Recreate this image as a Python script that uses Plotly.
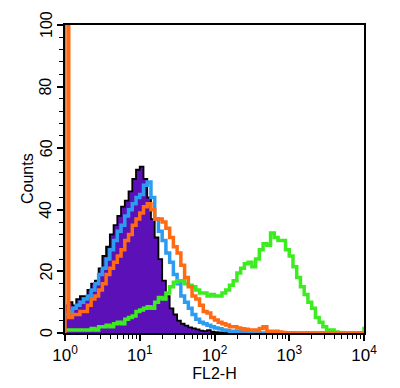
import plotly.graph_objects as go

# Histogram channels: left edge of each bin, in decades of FL2-H (0 .. 4)
bin_decades = [i / 20 for i in range(81)]

# Counts per bin
isotype_purple = [9, 10, 9, 11, 12, 12, 14, 16, 17, 21,
                  25, 28, 32, 35, 38, 41, 43, 46, 50, 53,
                  54, 50, 44, 37, 31, 24, 17, 12, 8, 6,
                  4, 3, 2.4, 1.8, 1.5, 1.2, 0.8, 0.6, 0.9, 0.4,
                  0.3, 0.2, 0.1, 0, 0, 0, 0, 0, 0, 0,
                  0, 0, 0, 0, 0, 0, 0, 0, 0, 0,
                  0, 0, 0, 0, 0, 0, 0, 0, 0, 0,
                  0, 0, 0, 0, 0, 0, 0, 0, 0, 0, 0]

blue_series = [6, 7, 8, 9, 10, 11, 12, 14, 16, 19,
               21, 24, 27, 30, 33, 35, 38, 40, 42, 44,
               45, 48, 49, 44, 37, 33, 30, 26, 23, 19,
               16, 12, 10, 8, 6, 4.5, 3.5, 3, 2.5, 2,
               1.6, 1.4, 1, 0.8, 0.5, 0.6, 0.3, 0.4, 0.2, 0.5,
               0.1, 0, 0, 0, 0, 0, 0, 0, 0, 0,
               0, 0, 0, 0, 0, 0, 0, 0, 0, 0,
               0, 0, 0, 0, 0, 0, 0, 0, 0, 0, 0]

orange_series = [150, 5, 6, 6, 7, 7, 9, 11, 12, 14,
                 16, 19, 21, 23, 25, 27, 30, 32, 35, 37,
                 39, 41, 42, 40, 37, 37, 36, 34, 31, 28,
                 26, 22, 18, 15, 12, 11, 9, 7, 6.5, 5,
                 4.2, 3.5, 3, 2.6, 2, 2, 1.6, 1.4, 1.2, 1,
                 1, 0.8, 1.5, 2, 0.6, 0.5, 0.6, 0.3, 0.2, 0.1,
                 0.1, 0, 0, 0, 0, 0, 0, 0, 0, 0,
                 0, 0, 0, 0, 0, 0, 0, 0, 0, 0, 0]

green_series = [1, 1, 1, 1, 1, 1, 1, 1.5, 1, 2,
                2, 2.5, 2, 3, 3.5, 3, 4.5, 5, 5.5, 7,
                7.5, 8, 8.5, 8, 10, 11.5, 11, 13, 15, 16.5,
                17, 17, 16, 15.5, 15, 14, 13, 13, 12, 12.5,
                12, 12, 13, 14, 15.5, 17, 19.5, 21, 22.5, 23,
                21.5, 24, 27, 29, 28.5, 32.5, 31, 30, 30, 27,
                25, 21.5, 18, 15, 12.5, 10, 8, 5, 3.5, 2,
                1, 1, 0.3, 0, 0, 0, 0, 0, 0, 0, 2]

x_tick_vals = [1, 10, 100, 1000, 10000]
x_tick_text = ["10<sup>0</sup>", "10<sup>1</sup>", "10<sup>2</sup>",
               "10<sup>3</sup>", "10<sup>4</sup>"]
y_tick_vals = [0, 20, 40, 60, 80, 100]
y_tick_text = ["0", "20", "40", "60", "80", "100"]

x = [10 ** d for d in bin_decades]
x_minor = [m * 10 ** e for e in range(4) for m in range(2, 10)]

FONT = "Liberation Sans, Arial, Helvetica, sans-serif"

fig = go.Figure()
fig.add_trace(go.Scatter(
    x=x, y=isotype_purple, mode="lines", line_shape="hv",
    line=dict(color="black", width=1.8),
    fill="tozeroy", fillcolor="#5b10b8", showlegend=False))
fig.add_trace(go.Scatter(
    x=x, y=blue_series, mode="lines", line_shape="hv",
    line=dict(color="#2d9cf0", width=3.5), showlegend=False))
fig.add_trace(go.Scatter(
    x=x, y=green_series, mode="lines", line_shape="hv",
    line=dict(color="#3cec1e", width=3.5), showlegend=False))
fig.add_trace(go.Scatter(
    x=[1] + x, y=[0] + orange_series, mode="lines", line_shape="hv",
    line=dict(color="#ff6a14", width=3.5), showlegend=False))

fig.update_layout(
    width=392, height=380,
    margin=dict(l=57, r=36, t=17, b=55),
    paper_bgcolor="white", plot_bgcolor="white",
    font=dict(family=FONT, size=16, color="black"),
)
fig.update_xaxes(
    type="log", range=[0, 4],
    tickmode="array", tickvals=x_tick_vals, ticktext=x_tick_text,
    ticks="outside", ticklen=6, tickwidth=1.5, tickcolor="black",
    minor=dict(tickmode="array", tickvals=x_minor, ticks="outside",
               ticklen=4, tickwidth=1, tickcolor="black"),
    showline=True, linecolor="black", linewidth=1.5, mirror=True,
    showgrid=False, zeroline=False,
    tickfont=dict(family=FONT, size=17, color="black"),
    title=dict(text="FL2-H", font=dict(family=FONT, size=16, color="black"),
               standoff=0),
)
fig.update_yaxes(
    range=[0, 100],
    tickmode="array", tickvals=y_tick_vals, showticklabels=False,
    ticks="outside", ticklen=6, tickwidth=1.5, tickcolor="black",
    minor=dict(dtick=4, tick0=0, ticks="outside", ticklen=4,
               tickwidth=1, tickcolor="black"),
    showline=True, linecolor="black", linewidth=1.5, mirror=True,
    showgrid=False, zeroline=False,
)

# Vertical y tick labels, centred on their ticks
for val, txt in zip(y_tick_vals, y_tick_text):
    fig.add_annotation(
        x=0, xref="paper", y=val, yref="y", text=txt, textangle=-90,
        showarrow=False, xanchor="center", yanchor="middle", xshift=-19,
        font=dict(family=FONT, size=16, color="black"))

fig.add_annotation(
    x=0, xref="paper", y=0.5, yref="paper", text="Counts", textangle=-90,
    showarrow=False, xanchor="center", yanchor="middle", xshift=-38,
    font=dict(family=FONT, size=16, color="black"))

fig.write_html("out.html")
